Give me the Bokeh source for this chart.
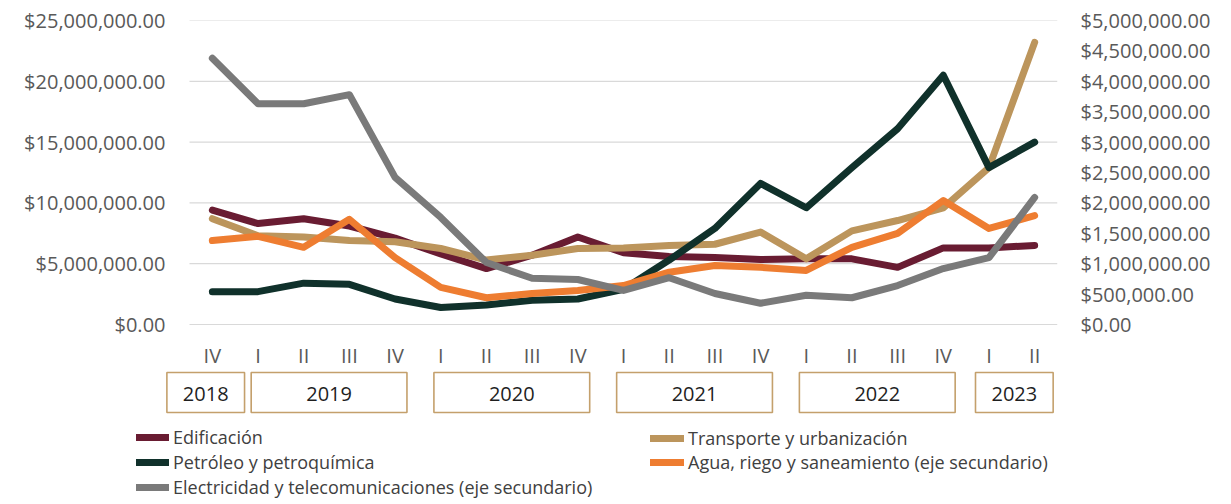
from bokeh.plotting import figure
from bokeh.models import (Range1d, LinearAxis, FixedTicker, NumeralTickFormatter,
                          Legend, LegendItem, ColumnDataSource)
from bokeh.embed import file_html
from bokeh.resources import INLINE
from bokeh.core.properties import value

# ---------------- data ----------------
quarters = ["IV", "I", "II", "III", "IV", "I", "II", "III", "IV", "I", "II", "III",
            "IV", "I", "II", "III", "IV", "I", "II"]
quarter_year = ["2018", "2019", "2019", "2019", "2019", "2020", "2020", "2020", "2020",
                "2021", "2021", "2021", "2021", "2022", "2022", "2022", "2022", "2023", "2023"]
years = ["2018", "2019", "2020", "2021", "2022", "2023"]

# primary axis (pesos)
edificacion = [9400000, 8300000, 8700000, 8100000, 7100000, 5800000, 4600000, 5700000,
               7200000, 5900000, 5600000, 5500000, 5350000, 5400000, 5400000, 4700000,
               6300000, 6300000, 6500000]
transporte = [8700000, 7300000, 7200000, 6900000, 6800000, 6250000, 5300000, 5700000,
              6250000, 6300000, 6500000, 6600000, 7600000, 5400000, 7700000, 8550000,
              9600000, 12900000, 23200000]
petroleo = [2700000, 2700000, 3400000, 3300000, 2100000, 1400000, 1600000, 2000000,
            2100000, 2900000, 5300000, 7900000, 11600000, 9600000, 12900000, 16100000,
            20500000, 12900000, 15000000]
# secondary axis (pesos)
agua = [1380000, 1450000, 1270000, 1730000, 1100000, 610000, 440000, 510000, 560000,
        640000, 860000, 970000, 940000, 890000, 1270000, 1500000, 2040000, 1580000, 1790000]
electricidad = [4380000, 3630000, 3630000, 3780000, 2420000, 1760000, 1020000, 760000,
                740000, 560000, 770000, 510000, 350000, 480000, 440000, 640000, 920000,
                1100000, 2090000]

primary_ticks = [0, 5000000, 10000000, 15000000, 20000000, 25000000]
secondary_ticks = [0, 500000, 1000000, 1500000, 2000000, 2500000, 3000000, 3500000,
                   4000000, 4500000, 5000000]

series = [
    ("Edificación", edificacion, "#691C32", "default"),
    ("Transporte y urbanización", transporte, "#BC955C", "default"),
    ("Petróleo y petroquímica", petroleo, "#10312B", "default"),
    ("Agua, riego y saneamiento (eje secundario)", agua, "#EE7D31", "sec"),
    ("Electricidad y telecomunicaciones (eje secundario)", electricidad, "#7A7A7A", "sec"),
]

# ---------------- layout constants (screen px) ----------------
FONT = "Open Sans"
W, H_FIG = 1226, 500
MARGIN = 0                  # observed: the page is photographed from its top-left corner
FRAME_LEFT_S = 128          # frame extends left so the legend fits inside it
PLOT_LEFT_S = 189           # left edge of the category band
PLOT_RIGHT_S = 1057
LABEL_RIGHT_S = 165         # right edge of the left-axis labels
TOP_S, ZERO_S, BOTTOM_S = 20, 324, MARGIN + H_FIG
n = len(quarters)
step = (PLOT_RIGHT_S - PLOT_LEFT_S) / n
LW = 7

y_max = primary_ticks[-1]
y2_max = secondary_ticks[-1]


def yv(sy):
    """screen y -> primary-axis value"""
    return (ZERO_S - sy) / (ZERO_S - TOP_S) * y_max


def xv(sx):
    """screen x -> category index"""
    return (sx - PLOT_LEFT_S) / step - 0.5


p = figure(width=W, height=H_FIG, output_backend="svg", toolbar_location=None,
           x_range=Range1d(xv(FRAME_LEFT_S), n - 0.5),
           y_range=Range1d(yv(BOTTOM_S), y_max),
           x_axis_location=None,
           min_border_left=FRAME_LEFT_S - MARGIN,
           min_border_right=W + MARGIN - PLOT_RIGHT_S,
           min_border_top=TOP_S - MARGIN, min_border_bottom=0)
p.extra_y_ranges = {"sec": Range1d(yv(BOTTOM_S) * y2_max / y_max, y2_max)}
p.outline_line_color = None
p.background_fill_color = "white"
p.border_fill_color = "white"
p.grid.visible = False

fmt = NumeralTickFormatter(format="$0,0.00")
ax1 = p.yaxis[0]
ax1.ticker = FixedTicker(ticks=primary_ticks)
ax1.formatter = fmt
ax1.major_label_standoff = FRAME_LEFT_S - LABEL_RIGHT_S   # labels sit inside the wide frame
ax2 = LinearAxis(y_range_name="sec", ticker=FixedTicker(ticks=secondary_ticks),
                 formatter=fmt, major_label_standoff=23)
p.add_layout(ax2, "right")

for ax in (ax1, ax2):
    ax.axis_line_color = None
    ax.major_tick_line_color = None
    ax.minor_tick_line_color = None
    ax.major_tick_out = 0
    ax.major_tick_in = 0
    ax.major_label_text_font = FONT
    ax.major_label_text_font_size = "20px"
    ax.major_label_text_color = "#595959"

# horizontal gridlines over the category band only
p.segment(x0=[-0.5] * len(primary_ticks), x1=[n - 0.5] * len(primary_ticks),
          y0=primary_ticks, y1=primary_ticks, line_color="#D9D9D9", line_width=1.2)

xs = list(range(n))
renderers = []
for name, vals, color, rng in series:
    renderers.append(p.line(xs, vals, line_color=color, line_width=LW,
                            line_join="round", line_cap="round", y_range_name=rng))

# quarter labels
p.text(x=xs, y=[yv(355)] * n, text=quarters, text_font=value(FONT),
       text_font_size="20px", text_color="#595959", text_align="center",
       text_baseline="middle")

# year boxes
box_l, box_r, box_c = [], [], []
for yr in years:
    idx = [i for i, qy in enumerate(quarter_year) if qy == yr]
    l, r = idx[0] - 0.15, idx[-1] + 0.26
    if r - l < 1.7:
        pad = (1.7 - (r - l)) / 2
        l, r = l - pad, r + pad
    if len(idx) == 1:
        l, r = l - 0.2, r - 0.2
    box_l.append(l)
    box_r.append(r)
    box_c.append((l + r) / 2)

src = ColumnDataSource(dict(left=box_l, right=box_r, center=box_c, year=years,
                            top=[yv(372)] * len(years), bottom=[yv(412)] * len(years),
                            ty=[yv(393)] * len(years)))
p.quad(left="left", right="right", top="top", bottom="bottom", source=src,
       fill_color="white", line_color="#C4A06C", line_width=1.6)
p.text(x="center", y="ty", text="year", source=src, text_font=value(FONT),
       text_font_size="20px", text_color="#1F1F1F", text_align="center",
       text_baseline="middle")

# legends (one per item so each sits where the reference has it)
legend_pos = [  # (screen x of glyph box start, row centre screen y, glyph width)
    (136, 437, 33),
    (650, 438, 34),
    (136, 462, 33),
    (650, 462, 34),
    (136, 487, 33),
]
RH = 26
for (name, vals, color, rng), r, (lx, cy, gw) in zip(series, renderers, legend_pos):
    lg = Legend(items=[LegendItem(label=name, renderers=[r])],
                location=(lx - FRAME_LEFT_S, BOTTOM_S - (cy + RH / 2)),
                padding=0, margin=0, spacing=0,
                glyph_width=gw, glyph_height=RH, label_height=RH,
                label_standoff=4,
                label_text_font=FONT, label_text_font_size="18px",
                label_text_color="#404040",
                border_line_color=None, background_fill_alpha=0)
    p.add_layout(lg, "center")

open("out.html", "w").write(file_html(p, INLINE))
